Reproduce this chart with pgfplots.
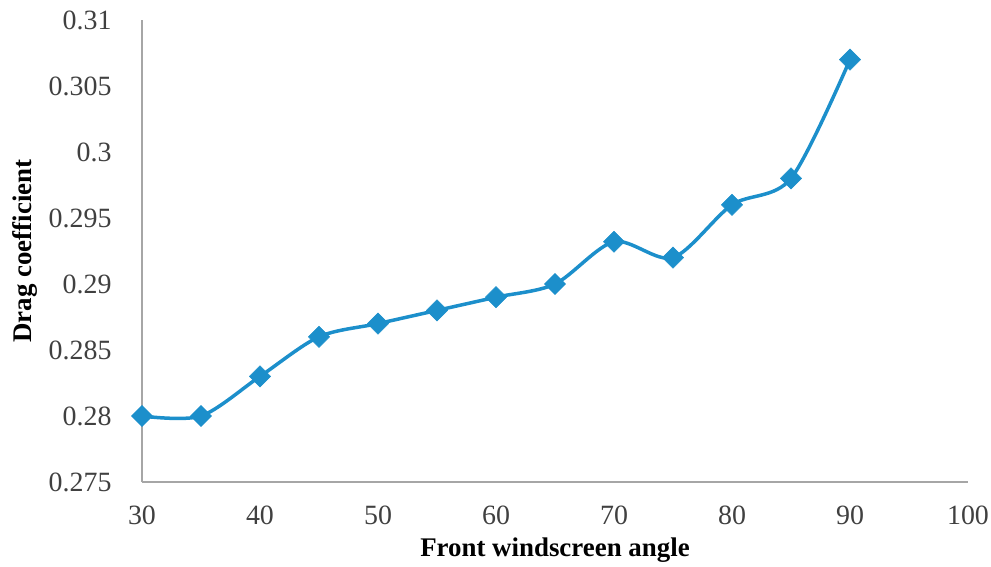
\documentclass[border=0pt]{standalone}
\usepackage{pgfplots}
\pgfplotsset{compat=1.18}
\usepackage{fontspec}
\setmainfont{Liberation Serif}
\definecolor{lineblue}{HTML}{1C8FCB}
\definecolor{axgray}{HTML}{A6A6A6}
\definecolor{txtgray}{HTML}{404040}
\begin{document}
\begin{tikzpicture}
\path[use as bounding box] (-142bp,-85bp) rectangle (849bp,482bp);
\begin{axis}[
  scale only axis,
  width=826bp, height=462bp,
  xmin=30, xmax=100, ymin=0.275, ymax=0.31,
  axis lines=left,
  axis line style={axgray, line width=1.5bp, -},
  xtick={30,40,50,60,70,80,90,100},
  ytick={0.275,0.28,0.285,0.29,0.295,0.3,0.305,0.31},
  yticklabels={0.275,0.28,0.285,0.29,0.295,0.3,0.305,0.31},
  scaled y ticks=false,
  major tick length=0pt,
  tick label style={font=\fontsize{28}{30}\selectfont, text=txtgray},
  /pgf/number format/assume math mode=true,
  yticklabel style={xshift=-27bp},
  xticklabel style={yshift=-20bp},
  xlabel={\textbf{Front windscreen angle}},
  label style={font=\fontsize{27}{30}\selectfont, text=black},
  xlabel style={at={(axis description cs:0.5,0)}, anchor=center, yshift=-68bp},
  clip=false,
]
\addplot[lineblue, line width=3.5bp, smooth, tension=0.5,
  mark=square*, mark size=7.5bp, mark options={fill=lineblue, draw=lineblue, line width=0.5bp, rotate=45}]
coordinates {
  (30,0.280) (35,0.280) (40,0.283) (45,0.286) (50,0.287) (55,0.288)
  (60,0.289) (65,0.290) (70,0.2932) (75,0.292) (80,0.296) (85,0.298) (90,0.307)
};
\node[rotate=90, anchor=center, font=\fontsize{27}{30}\selectfont\bfseries, xshift=0bp]
  at ([xshift=-117bp]rel axis cs:0,0.5) {Drag coefficient};
\end{axis}
\end{tikzpicture}
\end{document}
